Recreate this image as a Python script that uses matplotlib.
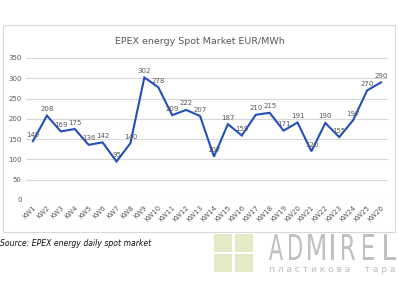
import matplotlib.pyplot as plt
import matplotlib.patches as patches
from matplotlib.textpath import TextPath
from matplotlib.font_manager import FontProperties
from matplotlib.transforms import Affine2D

# data
weeks = ["KW" + str(i) for i in range(1, 27)]
prices = [145, 208, 169, 175, 136, 142, 95, 140, 302, 278, 209, 222, 207,
          107, 187, 159, 210, 215, 171, 191, 120, 190, 155, 197, 270, 290]
y_ticks = [0, 50, 100, 150, 200, 250, 300, 350]

W, H = 399, 304
fig = plt.figure(figsize=(W / 100, H / 100), dpi=100)
fig.patch.set_facecolor('white')

# outer chart frame
frame = patches.Rectangle((3 / W, 1 - 232 / H), 392 / W, 207 / H,
                          transform=fig.transFigure, fill=False,
                          edgecolor='#D9D9D9', lw=0.8)
fig.patches.append(frame)

ax = fig.add_axes([26 / W, 1 - 200 / H, 362 / W, 142 / H])
x = list(range(len(weeks)))
ax.plot(x, prices, color='#2350B8', lw=1.5, solid_joinstyle='miter')
for xi, v in zip(x, prices):
    ax.annotate(str(v), (xi, v), xytext=(0, 2.5), textcoords='offset points',
                ha='center', va='bottom', fontsize=5, color='#595959')

ax.set_xlim(-0.5, 25.5)
ax.set_ylim(0, 350)
ax.set_yticks(y_ticks)
ax.set_xticks(x)
ax.set_xticklabels(weeks, rotation=45, ha='right', rotation_mode='anchor')
ax.grid(axis='y', color='#D9D9D9', lw=0.8)
ax.set_axisbelow(True)
for s in ax.spines.values():
    s.set_visible(False)
ax.tick_params(length=0, labelsize=5, colors='#595959', pad=3)

fig.text(200 / W, 1 - 41 / H, "EPEX energy Spot Market EUR/MWh",
         ha='center', va='center', fontsize=6.8, color='#595959')

fig.text(0, 1 - 243 / H, "Source: EPEX energy daily spot market",
         ha='left', va='center', fontsize=5.6, style='italic', color='#111111')

# watermark logo (drawn in pixel coordinates, y down)
px = Affine2D().scale(1, -1).translate(0, H) + Affine2D().scale(1 / W, 1 / H) + fig.transFigure
green = '#E2EBC6'
for (sx, sy) in [(214, 234), (235, 234), (214, 254), (235, 254)]:
    fig.patches.append(patches.Rectangle((sx, sy), 18, 18, transform=px,
                                         facecolor=green, edgecolor='none'))

fp = FontProperties(family='DejaVu Sans', weight='normal')
letters = "ADMIREL"
starts = [269, 289, 308, 331, 342, 363, 384]
widths = [14, 13, 17, 3, 13, 11, 12]
for ch, x0, w in zip(letters, starts, widths):
    tp = TextPath((0, 0), ch, size=1, prop=fp)
    ext = tp.get_extents()
    t = (Affine2D().translate(-ext.x0, -ext.y0)
         .scale(w / ext.width, -26 / ext.height).translate(x0, 260))
    fig.patches.append(patches.PathPatch(t.transform_path(tp), transform=px,
                                         facecolor='#C0C0C0', edgecolor='none'))

fig.text(332 / W, 1 - 269 / H, "п л а с т и к о в а     т а р а",
         ha='center', va='center', fontsize=6.5, color='#BDBDBD')

fig.savefig('out.png', dpi=100)
